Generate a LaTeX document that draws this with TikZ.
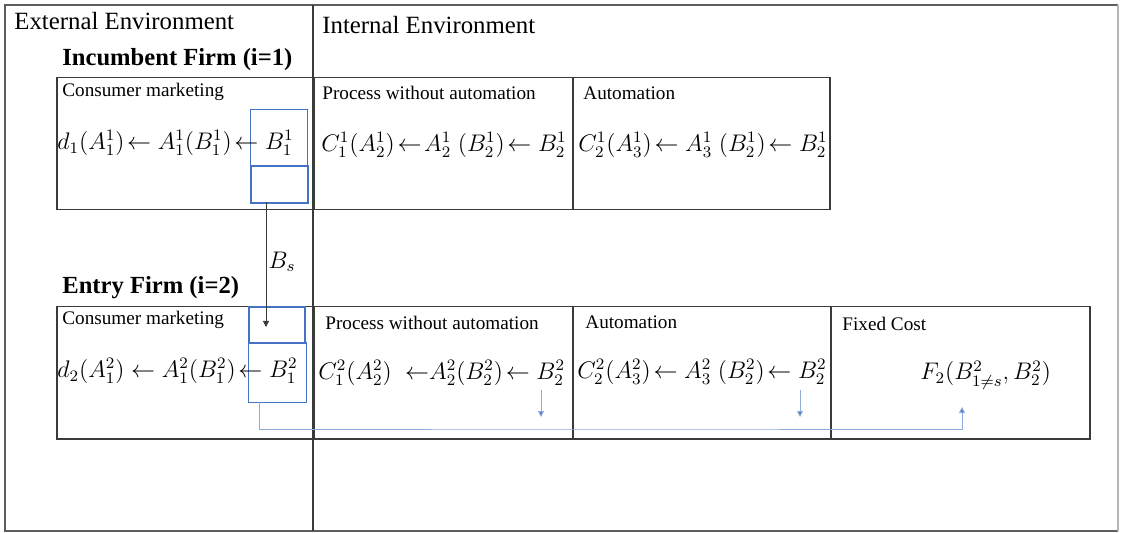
\documentclass[tikz,border=0pt]{standalone}
\usepackage{amsmath}
\usepackage{fontspec}
\setmainfont{Liberation Serif}
\usepackage{xcolor}
\usepackage{tikz}
\usetikzlibrary{arrows.meta,positioning}
\definecolor{frame}{HTML}{3A3A3A}
\definecolor{edge}{HTML}{5E5E5E}
\definecolor{faint}{HTML}{B4B4B4}
\definecolor{blue}{HTML}{4472C4}
\definecolor{lightblue}{HTML}{8FAADC}
\tikzset{
  outer/.style={draw=edge,line width=1.2pt},
  stage/.style={draw=frame,line width=.75pt,anchor=north west,minimum height=66pt,inner sep=0pt},
  slot/.style={draw=blue,line width=.6pt,anchor=north west,inner sep=0pt},
  slotbold/.style={slot,line width=1.1pt},
  title/.style={font=\fontsize{12.4}{14}\selectfont,anchor=west,inner sep=0pt},
  firm/.style={font=\fontsize{12.3}{14}\selectfont\bfseries,anchor=west,inner sep=0pt},
  tag/.style={font=\fontsize{9.6}{11}\selectfont,anchor=west,inner sep=0pt},
  eq/.style={font=\fontsize{12}{14}\selectfont,anchor=west,inner sep=0pt},
  share/.style={-{Triangle[length=3pt,width=3pt]},draw=frame,line width=.4pt},
  feed/.style={-{Triangle[length=3pt,width=3pt,fill=blue]},draw=lightblue,line width=.5pt}
}
\begin{document}
\begin{tikzpicture}[x=.5pt,y=-.5pt]
  \useasboundingbox (0,0) rectangle (1122,533);
  \fill[white] (0,0) rectangle (1122,533);
  \draw[outer] (1118,5) -- (5,5) -- (5,531) -- (1118,531);
  \draw[outer,draw=faint,line width=.6pt] (1118,5) -- (1118,531);
  \draw[outer,draw=frame] (313,5) -- (313,531);
  \node[title] (ext) at (14,21) {External Environment};
  \node[title] (int) at (322,25) {Internal Environment};
  % incumbent firm
  \node[firm] (inc) at (62,60) {Incumbent Firm (i=1)};
  \node[stage,minimum width=128.5pt] (cm1) at (56,77) {};
  \node[stage,minimum width=129.5pt] (pr1) at (313,77) {};
  \node[stage,minimum width=128.5pt] (au1) at (572,77) {};
  \node[slot,minimum width=28.5pt,minimum height=28pt] (ib1top) at (250,109) {};
  \node[slotbold,minimum width=28.5pt,minimum height=18.5pt] (ib1bot) at (250,165) {};
  \node[tag] (cm1t) at (62,92) {Consumer marketing};
  \node[tag] (pr1t) at (322,93) {Process without automation};
  \node[tag] (au1t) at (583,93) {Automation};
  \node[eq] (cm1e) at (57,143) {$d_1(A_1^1)\!\leftarrow A_1^1(B_1^1)\!\leftarrow B_1^1$};
  \node[eq] (pr1e) at (321,145) {$C_1^1(A_2^1)\!\leftarrow\! A_2^1\;(B_2^1)\!\leftarrow B_2^1$};
  \node[eq] (au1e) at (578,145) {$C_2^1(A_3^1)\!\leftarrow A_3^1\;(B_2^1)\!\leftarrow B_2^1$};
  % entry firm
  \node[firm] (ent) at (62,288) {Entry Firm (i=2)};
  \node[stage,minimum width=128.5pt] (cm2) at (56,306) {};
  \node[stage,minimum width=129.5pt] (pr2) at (313,306) {};
  \node[stage,minimum width=129pt] (au2) at (572,306) {};
  \node[stage,minimum width=129.5pt] (fc2) at (830,306) {};
  \node[slotbold,minimum width=28pt,minimum height=18pt] (eb2top) at (248,306) {};
  \node[slot,minimum width=29pt,minimum height=30pt] (eb2bot) at (248,342) {};
  \node[tag] (cm2t) at (62,320) {Consumer marketing};
  \node[tag] (pr2t) at (325,323) {Process without automation};
  \node[tag] (au2t) at (585,322) {Automation};
  \node[tag] (fc2t) at (842,324) {Fixed Cost};
  \node[eq] (cm2e) at (57,371) {$d_2(A_1^2)\leftarrow A_1^2(B_1^2)\!\leftarrow B_1^2$};
  \node[eq] (pr2e) at (318,373) {$C_1^2(A_2^2)\;\;{\leftarrow}A_2^2(B_2^2)\!\leftarrow B_2^2$};
  \node[eq] (au2e) at (577,372) {$C_2^2(A_3^2)\!\leftarrow A_3^2\;(B_2^2)\!\leftarrow B_2^2$};
  \node[eq] (fc2e) at (920,375) {$F_2(B_{1\neq s}^2,B_2^2)$};
  % shared B_s
  \coordinate (bsout) at (266,202);
  \coordinate (bsin) at (266,327);
  \draw[share] (bsout) -- (bsin);
  \node[eq,anchor=center] (bs) at (282,262) {$B_s$};
  \coordinate (pr2d) at (541,390);
  \coordinate (au2d) at (800,390);
  \draw[feed] (pr2d) -- ++(0,27);
  \draw[feed] (au2d) -- ++(0,27);
  \coordinate (eb2out) at (259,402);
  \coordinate (fc2in) at (962,407);
  \draw[feed] (eb2out) |- (600,429) -| (fc2in);
\end{tikzpicture}
\end{document}
